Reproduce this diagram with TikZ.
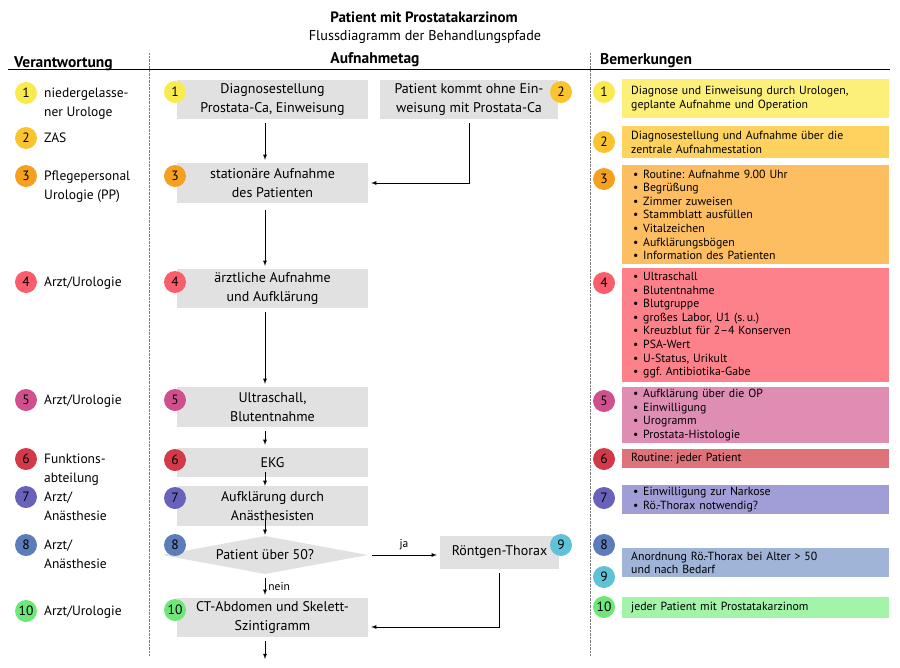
\documentclass[tikz,border=0pt]{standalone}
\usepackage{fontspec}
\setmainfont{PT Sans}
\usepackage{tikz}
\usetikzlibrary{shapes,arrows,positioning}
\frenchspacing
\definecolor{grau}{RGB}{225,225,225}
\definecolor{kreis1}{RGB}{250,234,80}
\definecolor{kreis2}{RGB}{250,196,46}
\definecolor{kreis3}{RGB}{246,160,34}
\definecolor{kreis4}{RGB}{250,94,108}
\definecolor{kreis5}{RGB}{208,80,142}
\definecolor{kreis6}{RGB}{210,58,74}
\definecolor{kreis7}{RGB}{104,98,186}
\definecolor{kreis8}{RGB}{92,124,186}
\definecolor{kreis9}{RGB}{96,194,214}
\definecolor{kreis10}{RGB}{110,230,122}
\definecolor{feld1}{RGB}{253,240,122}
\definecolor{feld2}{RGB}{253,210,95}
\definecolor{feld3}{RGB}{253,189,97}
\definecolor{feld4}{RGB}{253,129,138}
\definecolor{feld5}{RGB}{224,141,179}
\definecolor{feld6}{RGB}{222,115,122}
\definecolor{feld7}{RGB}{160,157,215}
\definecolor{feld8}{RGB}{160,180,216}
\definecolor{feld10}{RGB}{162,245,168}
\newcommand{\pkt}{\makebox[10pt][l]{\textbullet}}
\tikzstyle{num} = [circle, draw=none, minimum size=22pt, inner sep=0pt, font=\fontsize{13.5}{15}\selectfont]
\tikzstyle{schritt} = [rectangle, fill=grau, minimum width=191pt, minimum height=39pt, inner sep=0pt, align=center, font=\fontsize{14}{18.5}\selectfont]
\tikzstyle{frage} = [diamond, fill=grau, minimum width=206pt, minimum height=38pt, inner sep=0pt, aspect=5.4, font=\fontsize{14}{18}\selectfont]
\tikzstyle{bem} = [rectangle, anchor=north west, minimum width=267pt, inner xsep=9pt, inner ysep=0pt, text width=249pt, align=left, font=\fontsize{11.8}{13.6}\selectfont]
\tikzstyle{liste} = [bem, inner xsep=11pt, text width=245pt]
\tikzstyle{textonly} = [draw=none, fill=none, inner sep=0pt, align=left, font=\fontsize{13.5}{18.5}\selectfont]
\tikzstyle{kopf} = [textonly, font=\bfseries\fontsize{15.5}{17}\selectfont]
\tikzstyle{klein} = [textonly, font=\fontsize{11.5}{13}\selectfont]
\tikzstyle{tedge} = [draw, >=latex, ->, line width=0.8pt, shorten <=4pt, shorten >=3pt]

\begin{document}
\begin{tikzpicture}[x=1pt, y=-1pt]
\useasboundingbox (0,0) rectangle (900,667);

% heading =============================
\node[textonly, anchor=base, font=\bfseries\fontsize{15}{17}\selectfont] (titel) at (424,22) {Patient mit Prostatakarzinom};
\node[textonly, anchor=base, font=\fontsize{14.2}{17}\selectfont] (untertitel) at (425,40) {Flussdiagramm der Behandlungspfade};
\node[kopf, anchor=base west] (verantw) at (14,67) {Verantwortung};
\node[kopf, anchor=base] (tag) at (375,63) {Aufnahmetag};
\node[kopf, anchor=base west] (bemerk) at (600,64) {Bemerkungen};
\draw[line width=0.8pt] (8,69) -- (890,69);
\draw[densely dotted, gray] (149,53) -- (149,656);
\draw[densely dotted, gray] (590,53) -- (590,656);

% Verantwortung =============================
\node[num, fill=kreis1] (l1) at (26,93) {1};
\node[num, fill=kreis2] (l2) at (26,138) {2};
\node[num, fill=kreis3] (l3) at (26,176) {3};
\node[num, fill=kreis4] (l4) at (26,282) {4};
\node[num, fill=kreis5] (l5) at (26,400) {5};
\node[num, fill=kreis6] (l6) at (26,459) {6};
\node[num, fill=kreis7] (l7) at (26,497) {7};
\node[num, fill=kreis8] (l8) at (26,545) {8};
\node[num, fill=kreis10] (l10) at (26,611) {10};
\node[textonly, anchor=base west] (t1) at (44,116) {niedergelasse-\\ner Urologe};
\node[textonly, anchor=base west] (t2) at (44,142.5) {ZAS};
\node[textonly, anchor=base west] (t3) at (44,199) {Pflegepersonal\\Urologie (PP)};
\node[textonly, anchor=base west] (t4) at (44,286.5) {Arzt/Urologie};
\node[textonly, anchor=base west] (t5) at (44,404.5) {Arzt/Urologie};
\node[textonly, anchor=base west] (t6) at (44,482) {Funktions-\\abteilung};
\node[textonly, anchor=base west] (t7) at (44,520) {Arzt/\\Anästhesie};
\node[textonly, anchor=base west] (t8) at (44,568) {Arzt/\\Anästhesie};
\node[textonly, anchor=base west] (t10) at (44,615.5) {Arzt/Urologie};

% Aufnahmetag =============================
\node[schritt] (b1) at (272.5,99.5) {Diagnosestellung\\Prostata-Ca, Einweisung};
\node[schritt, minimum width=178pt] (b2) at (469,99.5) {Patient kommt ohne Ein-\\weisung mit Prostata-Ca};
\node[schritt, minimum height=40pt] (b3) at (272.5,183) {stationäre Aufnahme\\des Patienten};
\node[schritt] (b4) at (272.5,288.5) {ärztliche Aufnahme\\und Aufklärung};
\node[schritt, minimum height=40pt] (b5) at (272.5,407) {Ultraschall,\\Blutentnahme};
\node[schritt, minimum height=29pt] (b6) at (272.5,462.5) {EKG};
\node[schritt, minimum height=40pt] (b7) at (272.5,506) {Aufklärung durch\\Anästhesisten};
\node[frage] (dia) at (265,555) {Patient über 50?};
\node[schritt, minimum width=119pt, minimum height=33pt] (b9) at (499.5,552.5) {Röntgen-Thorax};
\node[schritt] (b10) at (272.5,617.5) {CT-Abdomen und Skelett-\\Szintigramm};
\coordinate (ende) at (265,662);

\node[num, fill=kreis1] (m1) at (175,92) {1};
\node[num, fill=kreis2] (m2) at (561,92) {2};
\node[num, fill=kreis3] (m3) at (175,176) {3};
\node[num, fill=kreis4] (m4) at (175,282) {4};
\node[num, fill=kreis5] (m5) at (175,400) {5};
\node[num, fill=kreis6] (m6) at (175,460) {6};
\node[num, fill=kreis7] (m7) at (175,498) {7};
\node[num, fill=kreis8] (m8) at (175,545) {8};
\node[num, fill=kreis9] (m9) at (561,545) {9};
\node[num, fill=kreis10] (m10) at (175,610) {10};

% Bemerkungen =============================
\node[bem, fill=feld1, minimum height=39pt] (r1) at (622,79) {Diagnose und Einweisung durch Urologen,\\geplante Aufnahme und Operation};
\node[bem, fill=feld2, minimum height=32pt] (r2) at (622,126) {Diagnosestellung und Aufnahme über die\\zentrale Aufnahmestation};
\node[liste, fill=feld3, minimum height=99pt] (r3) at (622,165) {\pkt Routine: Aufnahme 9.00 Uhr\\\pkt Begrüßung\\\pkt Zimmer zuweisen\\\pkt Stammblatt ausfüllen\\\pkt Vitalzeichen\\\pkt Aufklärungsbögen\\\pkt Information des Patienten};
\node[liste, fill=feld4, minimum height=114pt] (r4) at (622,268) {\pkt Ultraschall\\\pkt Blutentnahme\\\pkt Blutgruppe\\\pkt großes Labor, U1 (s.\,u.)\\\pkt Kreuzblut für 2–4 Konserven\\\pkt PSA-Wert\\\pkt U-Status, Urikult\\\pkt ggf. Antibiotika-Gabe};
\node[liste, fill=feld5, minimum height=56pt] (r5) at (622,387) {\pkt Aufklärung über die OP\\\pkt Einwilligung\\\pkt Urogramm\\\pkt Prostata-Histologie};
\node[bem, fill=feld6, minimum height=19pt] (r6) at (622,449) {Routine: jeder Patient};
\node[liste, fill=feld7, minimum height=29pt] (r7) at (622,485) {\pkt Einwilligung zur Narkose\\\pkt Rö.-Thorax notwendig?};
\node[bem, fill=feld8, minimum height=29pt] (r8) at (622,548) {Anordnung Rö.-Thorax bei Alter > 50\\und nach Bedarf};
\node[bem, fill=feld10, minimum height=21pt] (r10) at (622,597) {jeder Patient mit Prostatakarzinom};

\node[num, fill=kreis1] (n1) at (604,92) {1};
\node[num, fill=kreis2] (n2) at (604,142) {2};
\node[num, fill=kreis3] (n3) at (604,179) {3};
\node[num, fill=kreis4] (n4) at (604,283) {4};
\node[num, fill=kreis5] (n5) at (604,401) {5};
\node[num, fill=kreis6] (n6) at (604,459) {6};
\node[num, fill=kreis7] (n7) at (604,498) {7};
\node[num, fill=kreis8] (n8) at (604,545) {8};
\node[num, fill=kreis9] (n9) at (604,577) {9};
\node[num, fill=kreis10] (n10) at (604,607) {10};

% edges
\path[tedge] (b1.south -| dia.north) -- (b3.north -| dia.north);
\path[tedge] (b2.south) |- (b3.east);
\path[tedge, shorten <=7pt] (b3.south -| dia.north) -- (b4.north -| dia.north);
\path[tedge] (b4.south -| dia.north) -- (b5.north -| dia.north);
\path[tedge] (b5.south -| dia.north) -- (b6.north -| dia.north);
\path[tedge, shorten <=-5pt, shorten >=0pt] (b6.south -| dia.north) -- (b7.north -| dia.north);
\path[tedge, shorten <=-8pt, shorten >=1pt] (b7.south -| dia.north) -- (dia.north);
\path[tedge] (dia.east) -- node[klein, above=5pt] {ja} (dia.east -| b9.west);
\path[tedge] (dia.south) -- node[klein, right=3pt] {nein} (b10.north -| dia.south);
\path[tedge] (b9.south) |- ([yshift=-9.5pt]b10.east);
\path[tedge] (b10.south -| dia.north) -- (ende);

\end{tikzpicture}
\end{document}
